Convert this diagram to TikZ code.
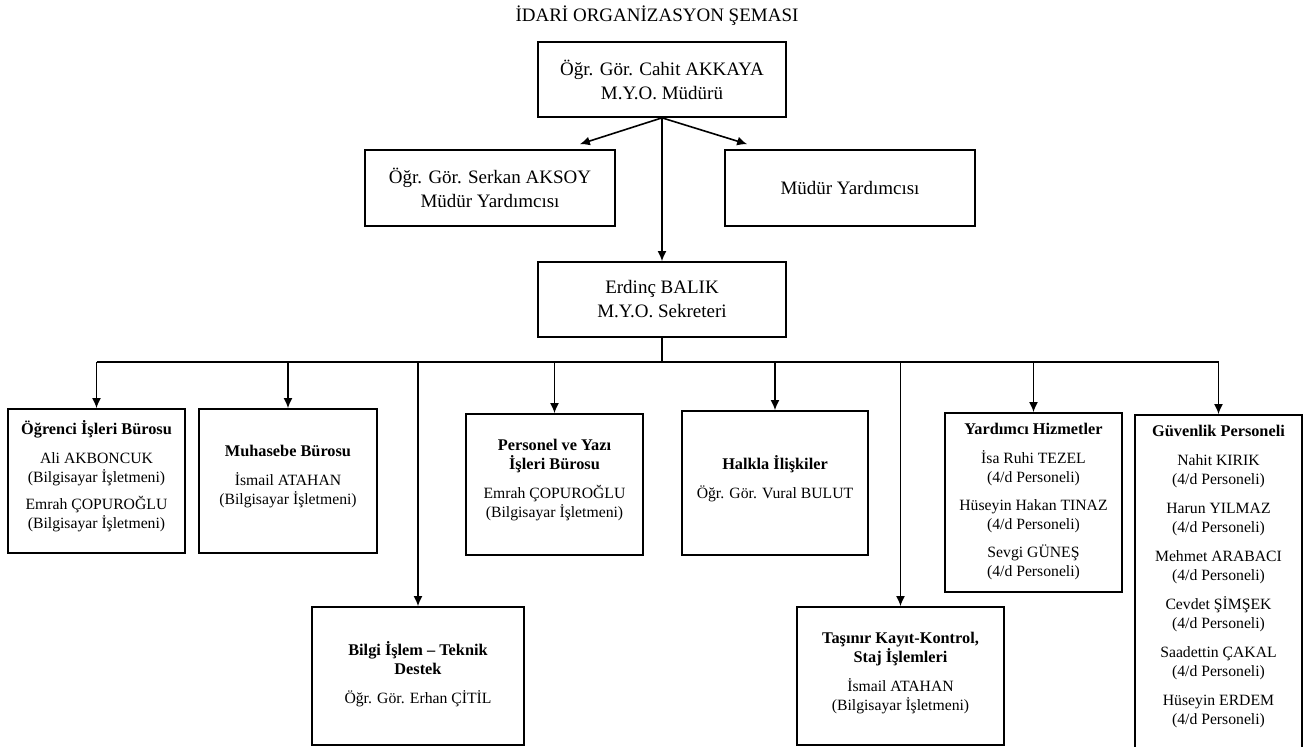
\documentclass[tikz,border=0pt]{standalone}
\usepackage{fontspec}
\setmainfont{Liberation Serif}
\usetikzlibrary{arrows.meta,calc}
\tikzset{
  box/.style={draw=black, line width=1.7pt, inner sep=0pt},
  bigtext/.style={align=center, font=\fontsize{19}{24}\selectfont},
  smalltext/.style={align=center, font=\fontsize{15.7}{19}\selectfont, inner sep=0pt, anchor=north},
  arr/.style={-{Latex[length=10pt,width=9pt]}, line width=1.6pt},
  busline/.style={line width=1.6pt}
}
\newcommand{\hd}[1]{{\fontsize{16.3}{19}\selectfont\bfseries #1}}
\begin{document}
\begin{tikzpicture}[x=1pt,y=-1pt]
\useasboundingbox (0,0) rectangle (1304,747);

\node[font=\fontsize{19}{22}\selectfont] (title) at (657,16) {İDARİ ORGANİZASYON ŞEMASI};

% upper levels
\node[box, bigtext, minimum width=248pt, minimum height=75pt] (mudur) at (662,79.5) {Öğr. Gör. Cahit AKKAYA\\M.Y.O. Müdürü};
\node[box, bigtext, minimum width=250pt, minimum height=76pt] (yard1) at (490,188) {Öğr. Gör. Serkan AKSOY\\Müdür Yardımcısı};
\node[box, bigtext, minimum width=250pt, minimum height=76pt] (yard2) at (850,188) {Müdür Yardımcısı};
\node[box, bigtext, minimum width=248pt, minimum height=75pt] (sekreter) at (662,299.5) {Erdinç BALIK\\M.Y.O. Sekreteri};

% units
\node[box, minimum width=177pt, minimum height=144pt] (ogr) at (96.5,481) {};
\node[box, minimum width=178pt, minimum height=144pt] (muh) at (288,481) {};
\node[box, minimum width=212pt, minimum height=138pt] (bilgi) at (418,676) {};
\node[box, minimum width=177pt, minimum height=141pt] (pers) at (554.5,484.5) {};
\node[box, minimum width=186pt, minimum height=144pt] (halk) at (775,483) {};
\node[box, minimum width=207pt, minimum height=138pt] (tasinir) at (900.5,676) {};
\node[box, minimum width=177pt, minimum height=179pt] (yrd) at (1033.5,502.5) {};
\node[box, minimum width=167pt, minimum height=340pt] (guv) at (1218.5,585) {};

\node[smalltext] (ogrT) at (96.5,420) {\hd{Öğrenci İşleri Bürosu}\\[10pt]Ali AKBONCUK\\(Bilgisayar İşletmeni)\\[8pt]Emrah ÇOPUROĞLU\\(Bilgisayar İşletmeni)};
\node[smalltext] (muhT) at (288,445) {\hd{Muhasebe Bürosu}\\[10pt]İsmail ATAHAN\\(Bilgisayar İşletmeni)};
\node[smalltext] (bilgiT) at (418,641) {\hd{Bilgi İşlem – Teknik}\\\hd{Destek}\\[10pt]Öğr. Gör. Erhan ÇİTİL};
\node[smalltext] (persT) at (554.5,439) {\hd{Personel ve Yazı}\\\hd{İşleri Bürosu}\\[10pt]Emrah ÇOPUROĞLU\\(Bilgisayar İşletmeni)};
\node[smalltext] (halkT) at (775,455) {\hd{Halkla İlişkiler}\\[10pt]Öğr. Gör. Vural BULUT};
\node[smalltext] (tasinirT) at (900.5,632) {\hd{Taşınır Kayıt-Kontrol,}\\\hd{Staj İşlemleri}\\[10pt]İsmail ATAHAN\\(Bilgisayar İşletmeni)};
\node[smalltext] (yrdT) at (1033.5,423) {\hd{Yardımcı Hizmetler}\\[10pt]İsa Ruhi TEZEL\\(4/d Personeli)\\[9pt]Hüseyin Hakan TINAZ\\(4/d Personeli)\\[9pt]Sevgi GÜNEŞ\\(4/d Personeli)};
\node[smalltext] (guvT) at (1218.5,425) {\hd{Güvenlik Personeli}\\[10pt]Nahit KIRIK\\(4/d Personeli)\\[10pt]Harun YILMAZ\\(4/d Personeli)\\[10pt]Mehmet ARABACI\\(4/d Personeli)\\[10pt]Cevdet ŞİMŞEK\\(4/d Personeli)\\[10pt]Saadettin ÇAKAL\\(4/d Personeli)\\[10pt]Hüseyin ERDEM\\(4/d Personeli)};

% connectors
\coordinate (bus) at (662,362);
\draw[arr] (mudur.south) -- ($(yard1.north east)+(-36,-5)$);
\draw[arr] (mudur.south) -- ($(yard2.north west)+(23,-5)$);
\draw[arr] (mudur.south) -- (sekreter.north);
\draw[busline] (sekreter.south) -- (bus);
\draw[busline] (ogr.north |- bus) -- (guv.north |- bus);
\foreach \b in {ogr,muh,bilgi,pers,halk,tasinir,yrd,guv}
  \draw[arr] (\b.north |- bus) -- (\b.north);
\end{tikzpicture}
\end{document}
